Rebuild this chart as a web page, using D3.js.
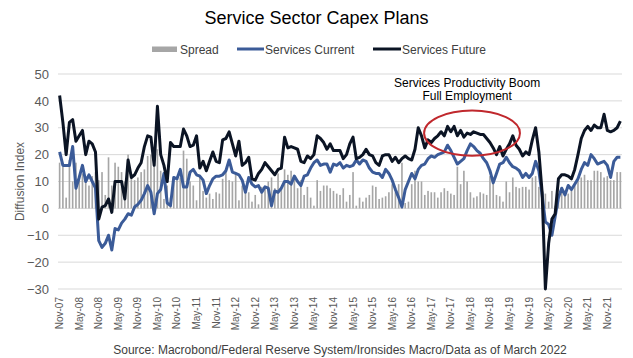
<!DOCTYPE html>
<html><head><meta charset="utf-8">
<script src="https://cdn.jsdelivr.net/npm/d3@7"></script>
<style>
body{margin:0;background:#fff;}
svg{display:block;font-family:"Liberation Sans",Arial,sans-serif;}
</style>
</head><body><svg id="chart" width="633" height="358"></svg>
<script>
// ---- data ----
const startMonth = "2007-11";
const monthCount = 173;
const tickLabels = ["Nov-07","May-08","Nov-08","May-09","Nov-09","May-10","Nov-10","May-11","Nov-11","May-12","Nov-12","May-13","Nov-13","May-14","Nov-14","May-15","Nov-15","May-16","Nov-16","May-17","Nov-17","May-18","Nov-18","May-19","Nov-19","May-20","Nov-20","May-21","Nov-21"];
const yTicks = [-30,-20,-10,0,10,20,30,40,50];
const seriesNames = ["Spread","Services Current","Services Future"];

const spread = [
17,15.5,4,18,10,17,11,13,12,8.5,
12,13.5,10.5,13.5,5,19,8.5,17,15.5,13.5,
10,20,11,10.5,11.5,13.5,14.5,19.5,20,15.5,
22,14,3.5,8.5,4,10,10.5,11.5,21.5,18.5,
10,8.5,3,12.5,6.5,4,5.5,3.5,6,5.5,
11,14,10.5,10,13,3,8.5,7.5,6,2.5,
5,1.5,8,7.5,10,11.5,7.5,13,7.5,14.5,
12.5,14,11.5,7.5,10.5,5,8,4,1,10.5,
6.5,8.5,8.5,7.5,6.5,5.5,5,7.5,2.5,5,
13.5,1,4,2.5,4,5,8.5,8,3.5,4,
4.5,6,9,6,9,17,2,2.5,9,14,
10,10,5,6.5,6,6,4,6,7.5,6.5,
5.5,5,15.5,9,14,10,6,4,4.5,6,
5.5,5,12,9.5,5,4.5,2.5,10,6,11.5,
8,7.5,8,8,7,11.5,12,8,3,5.5,
2.5,6.5,1,3,6,6.5,5.5,6.5,8.5,10.5,
11.5,12.5,10.5,10.5,14,14,13.5,11.5,12,10.5,
10.5,13.5,13.5];

const servicesCurrent = [
21,16,16,16,23,7.5,11.5,16,10,12.5,
10,7.5,-12,-14.5,-13,-10,-15.5,-7.5,-8,-5.5,
-4,-2,-2.5,0.5,1.5,3,5.5,8.5,6,-2,
5.5,7,13,2,1,11.5,11,14.5,8,8,
13.5,14.5,12.5,12,10.5,5.5,8.5,11,12,12,
12.5,14,18,13.5,13,12.5,10.5,6,11.5,9,
8,8.5,6,8,7.5,1,6.5,6,7.5,10,
10,9,12,10,8.5,12,12.5,15,17,18,
16,16.5,16.5,13.5,16.5,16,17,15,16,15.5,
16,18,16.5,18,17.5,15,13.5,13,13,11.5,
14.5,13,10.5,7,4,0.5,7,10,13,11,
14.5,16,16.5,18.5,19.5,19,20,20.5,21,23.5,
21.5,19,16.5,17.5,18.5,21.5,24,23,21.5,20.5,
18.5,17,14,9.5,13,16.5,17,19,17,15.5,
15,14,11.5,13,11.5,13,17.5,14,5,-5,
-6,-10,-3,4,7.5,5,8.5,7,9,11,
14.5,17,16,20,18.5,16.5,17,17.5,16,11.5,
17.5,19,19];

const servicesFuture = [
42,32,20,32,33,25,27,29,20,25,
24,21,-4,0.5,1,3.5,-1.5,10,10,10,
3.5,18,11.5,12.5,15,17,23,27,26.5,16,
38,20,16,10,24.5,23,23,23,29.5,27,
23,23.5,27,15,17.5,14,17.5,21,17.5,17,
25.5,26,28.5,24,19.5,25,16,17,19,11,
10.5,13,14.5,17,15.5,14,12.5,14.5,15,26.5,
22.5,23,22.5,22,17.5,17,19.5,18.5,20,27,
26,24.5,22,24,21.5,21.5,21.5,18.5,20,24,
26.5,18.5,19,20,22,20,19.5,17,16,19.5,
20,20,17.5,19,17,18.5,19.5,18.5,18,22,
30,27,22.5,25.5,24.5,26,27,28.5,27,30.5,
28.5,30.5,27,29,26.5,28,27.5,28.5,28,27.5,
27.5,26,24.5,22.5,20,23,19.5,22,24,27,
23.5,22,19.5,21,20,25.5,30,21,6,-30,
-13,-4,-2,11,12.5,12.5,12,11,14.5,20,
26,29,30.5,29,31,30,30,35,29,28.5,
29,30,32.5];

// annotation (in data terms)
const noteLines = ["Services Productivity Boom","Full Employment"];
const noteMonth = "Apr-18";
const ellipseCenterMonth = "May-18";

// ---- chart ----
const svg = d3.select("#chart");
const W = 633, H = 358;
const plot = {left:58, right:622, top:74, bottom:289};

const fmt = d3.timeFormat("%b-%y");
const start = d3.timeParse("%Y-%m")(startMonth);
const months = d3.timeMonth.range(start, d3.timeMonth.offset(start, monthCount)).map(fmt);

const x = d3.scaleBand().domain(months).range([plot.left, plot.right]).padding(0);
const bw = x.bandwidth();
const cx = m => x(m) + bw/2;
const y = d3.scaleLinear().domain([-30,50]).range([plot.bottom, plot.top]);

// gridlines
svg.append("g").selectAll("line").data(yTicks).join("line")
  .attr("x1", plot.left).attr("x2", plot.right)
  .attr("y1", d=>y(d)).attr("y2", d=>y(d))
  .attr("stroke","#d9d9d9").attr("stroke-width",1);

// y axis
const yAxis = svg.append("g").attr("transform",`translate(${plot.left-9},0)`)
  .call(d3.axisLeft(y).tickValues(yTicks).tickSize(0).tickPadding(0));
yAxis.select(".domain").remove();
yAxis.selectAll("text").attr("font-size",13).attr("fill","#595959")
  .attr("font-family","'Liberation Sans',Arial,sans-serif");

// y title
svg.append("text").attr("transform",`translate(24,${(plot.top+plot.bottom)/2}) rotate(-90)`)
  .attr("text-anchor","middle").attr("font-size",12).attr("fill","#595959")
  .text("Diffusion Index");

// x axis
const xAxis = svg.append("g").attr("transform",`translate(0,${plot.bottom})`)
  .call(d3.axisBottom(x).tickValues(tickLabels).tickSize(0).tickPadding(0));
xAxis.select(".domain").remove();
xAxis.selectAll("text")
  .attr("font-size",10).attr("fill","#595959")
  .attr("font-family","'Liberation Sans',Arial,sans-serif")
  .attr("text-anchor","end")
  .attr("transform","rotate(-90)")
  .attr("x",-8).attr("y",0).attr("dy","0.35em");

// bars
const barW = bw*0.5;
svg.append("g").selectAll("rect").data(spread).join("rect")
  .attr("x",(d,i)=>cx(months[i]) - barW/2)
  .attr("width",barW)
  .attr("y",d=>Math.min(y(d),y(0)))
  .attr("height",d=>Math.abs(y(d)-y(0)))
  .attr("fill","#a6a6a6");

// lines
const line = d3.line().x((d,i)=>cx(months[i])).y(d=>y(d));
svg.append("path").datum(servicesCurrent).attr("d",line)
  .attr("fill","none").attr("stroke","#3b5b98").attr("stroke-width",3).attr("stroke-linejoin","round");
svg.append("path").datum(servicesFuture).attr("d",line)
  .attr("fill","none").attr("stroke","#0b1424").attr("stroke-width",3).attr("stroke-linejoin","round");

// annotation
const step = x.step();
svg.append("ellipse")
  .attr("cx", x(ellipseCenterMonth) + step)
  .attr("cy", y(28))
  .attr("rx", step*14.7)
  .attr("ry", y(0)-y(8.4))
  .attr("fill","none").attr("stroke","#c0282d").attr("stroke-width",2);
svg.append("g").selectAll("text").data(noteLines).join("text")
  .attr("x", cx(noteMonth))
  .attr("y",(d,i)=> i===0 ? y(45.3) : y(40.5))
  .attr("text-anchor","middle").attr("font-size",12).attr("fill","#000")
  .text(d=>d);

// title
svg.append("text").attr("x",W/2).attr("y",24).attr("text-anchor","middle")
  .attr("font-size",18).attr("fill","#000").text("Service Sector Capex Plans");

// legend
const lg = svg.append("g").attr("font-size",12).attr("fill","#404040");
lg.append("rect").attr("x",152).attr("y",46.5).attr("width",25).attr("height",5.5).attr("fill","#a6a6a6");
lg.append("text").attr("x",180).attr("y",53.5).text(seriesNames[0]);
lg.append("line").attr("x1",237).attr("x2",264).attr("y1",49).attr("y2",49).attr("stroke","#3b5b98").attr("stroke-width",3);
lg.append("text").attr("x",265).attr("y",53.5).text(seriesNames[1]);
lg.append("line").attr("x1",373).attr("x2",401).attr("y1",49).attr("y2",49).attr("stroke","#0b1424").attr("stroke-width",3);
lg.append("text").attr("x",402).attr("y",53.5).text(seriesNames[2]);

// source
svg.append("text").attr("x",(plot.left+plot.right)/2).attr("y",354).attr("text-anchor","middle")
  .attr("font-size",12).attr("fill","#404040")
  .text("Source: Macrobond/Federal Reserve System/Ironsides Macro/Data as of March 2022");
</script>
</body></html>
